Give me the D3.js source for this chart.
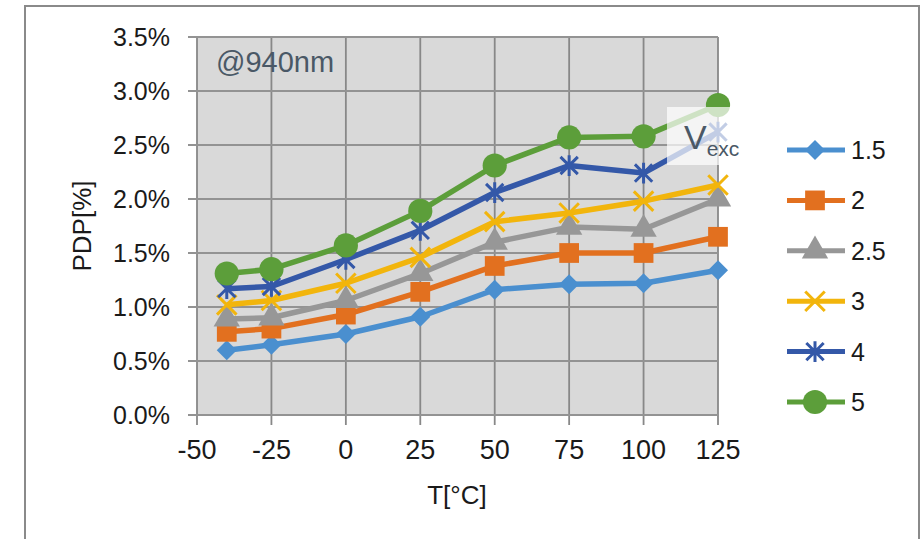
<!DOCTYPE html>
<html>
<head>
<meta charset="utf-8">
<script src="https://cdn.jsdelivr.net/npm/d3@7"></script>
<style>
  body { margin: 0; background: #fff; }
  text { font-family: "Liberation Sans", Arial, sans-serif; }
</style>
</head>
<body>
<div id="chart"></div>
<script>
// chart data
const temps = [-40, -25, 0, 25, 50, 75, 100, 125];
const xTicks = [-50, -25, 0, 25, 50, 75, 100, 125];
const yTicks = [0, 0.5, 1.0, 1.5, 2.0, 2.5, 3.0, 3.5];
const seriesNames = ["1.5", "2", "2.5", "3", "4", "5"];
const pdp15 = [0.60, 0.65, 0.75, 0.91, 1.16, 1.21, 1.22, 1.34];
const pdp2  = [0.77, 0.80, 0.93, 1.14, 1.38, 1.50, 1.50, 1.65];
const pdp25 = [0.89, 0.90, 1.06, 1.31, 1.60, 1.74, 1.72, 2.00];
const pdp3  = [1.02, 1.06, 1.22, 1.46, 1.79, 1.87, 1.98, 2.13];
const pdp4  = [1.17, 1.19, 1.44, 1.71, 2.06, 2.31, 2.24, 2.62];
const pdp5  = [1.31, 1.35, 1.57, 1.89, 2.31, 2.57, 2.58, 2.87];

const colors = ["#4a8fcf", "#e2701f", "#979797", "#f2b50c", "#3458a8", "#5c9e3a"];
const allValues = [pdp15, pdp2, pdp25, pdp3, pdp4, pdp5];

const W = 923, H = 539;
const plot = { left: 197, right: 718, top: 37, bottom: 415 };

const svg = d3.select("#chart").append("svg")
    .attr("width", W).attr("height", H);

svg.append("rect").attr("width", W).attr("height", H).attr("fill", "#fff");
svg.append("rect")
    .attr("x", 25).attr("y", 6).attr("width", 894).attr("height", 600)
    .attr("fill", "none").attr("stroke", "#8a8a8a").attr("stroke-width", 2);

const x = d3.scaleLinear().domain([-50, 125]).range([plot.left, plot.right]);
const y = d3.scaleLinear().domain([0, 3.5]).range([plot.bottom, plot.top]);

svg.append("rect")
    .attr("x", plot.left).attr("y", plot.top)
    .attr("width", plot.right - plot.left).attr("height", plot.bottom - plot.top)
    .attr("fill", "#d9d9d9");

// gridlines
svg.append("g").selectAll("line").data(xTicks).enter().append("line")
    .attr("x1", d => x(d)).attr("x2", d => x(d))
    .attr("y1", plot.top).attr("y2", plot.bottom + 10)
    .attr("stroke", "#888").attr("stroke-width", 1.8);

svg.append("g").selectAll("line").data(yTicks).enter().append("line")
    .attr("x1", plot.left - 9).attr("x2", plot.right)
    .attr("y1", d => y(d)).attr("y2", d => y(d))
    .attr("stroke", "#939393").attr("stroke-width", 2.2);

// tick labels
svg.append("g").selectAll("text").data(yTicks).enter().append("text")
    .attr("x", 170).attr("y", d => y(d) + 9)
    .attr("text-anchor", "end")
    .attr("font-size", 25).attr("fill", "#1a1a1a")
    .text(d => d.toFixed(1) + "%");

svg.append("g").selectAll("text").data(xTicks).enter().append("text")
    .attr("x", d => x(d)).attr("y", 459)
    .attr("text-anchor", "middle")
    .attr("font-size", 27).attr("fill", "#1a1a1a")
    .text(d => d);

svg.append("text")
    .attr("x", 457).attr("y", 504)
    .attr("text-anchor", "middle")
    .attr("font-size", 26).attr("fill", "#1a1a1a")
    .text("T[°C]");

svg.append("text")
    .attr("transform", `translate(91,${(plot.top + plot.bottom) / 2}) rotate(-90)`)
    .attr("text-anchor", "middle")
    .attr("font-size", 26).attr("fill", "#1a1a1a")
    .text("PDP[%]");

svg.append("text")
    .attr("x", 216).attr("y", 72)
    .attr("font-size", 29).attr("fill", "#4a5866")
    .text("@940nm");

// Excel-like star: an x with a vertical bar
const symbolStar = {
    draw(ctx, size) {
        const r = Math.sqrt(size) / 2;
        ctx.moveTo(-r, -r); ctx.lineTo(r, r);
        ctx.moveTo(-r, r); ctx.lineTo(r, -r);
        ctx.moveTo(0, -r * 1.2); ctx.lineTo(0, r * 1.2);
    }
};
const symbolCrossX = {
    draw(ctx, size) {
        const r = Math.sqrt(size) / 2;
        ctx.moveTo(-r, -r); ctx.lineTo(r, r);
        ctx.moveTo(-r, r); ctx.lineTo(r, -r);
    }
};

// markers
const markerShapes = [
    { type: d3.symbolSquare, size: 200, rotate: 45, fill: true },
    { type: d3.symbolSquare, size: 390, rotate: 0, fill: true },
    { type: d3.symbolTriangle, size: 300, rotate: 0, fill: true },
    { type: symbolCrossX, size: 380, rotate: 0, fill: false },
    { type: symbolStar, size: 300, rotate: 0, fill: false },
    { type: d3.symbolCircle, size: 460, rotate: 0, fill: true }
];

function drawMarker(g, i, cx, cy) {
    const m = markerShapes[i];
    const p = g.append("path")
        .attr("d", d3.symbol().type(m.type).size(m.size)())
        .attr("transform", `translate(${cx},${cy}) rotate(${m.rotate})`);
    if (m.fill) p.attr("fill", colors[i]);
    else p.attr("fill", "none").attr("stroke", colors[i]).attr("stroke-width", 3);
}

const line = d3.line().x(d => x(d[0])).y(d => y(d[1]));

allValues.forEach((vals, i) => {
    const pts = temps.map((t, k) => [t, vals[k]]);
    const g = svg.append("g");
    g.append("path")
        .attr("d", line(pts))
        .attr("fill", "none").attr("stroke", colors[i])
        .attr("stroke-width", 5.5).attr("stroke-linejoin", "round");
    pts.forEach(p => drawMarker(g, i, x(p[0]), y(p[1])));
});

// Vexc label box
svg.append("rect")
    .attr("x", 667).attr("y", 107).attr("width", 72).attr("height", 58)
    .attr("fill", "#fff").attr("fill-opacity", 0.7);
const vt = svg.append("text")
    .attr("x", 684).attr("y", 149)
    .attr("fill", "#4a5866");
vt.append("tspan").attr("font-size", 34).text("V");
vt.append("tspan").attr("font-size", 21).attr("dy", 7).text("exc");

// legend
const legend = svg.append("g");
seriesNames.forEach((name, i) => {
    const ly = 150 + i * 50.4;
    legend.append("line")
        .attr("x1", 787).attr("x2", 845).attr("y1", ly).attr("y2", ly)
        .attr("stroke", colors[i]).attr("stroke-width", 5);
    drawMarker(legend, i, 815, ly);
    legend.append("text")
        .attr("x", 851).attr("y", ly + 9)
        .attr("font-size", 25).attr("fill", "#1a1a1a")
        .text(name);
});
</script>
</body>
</html>
